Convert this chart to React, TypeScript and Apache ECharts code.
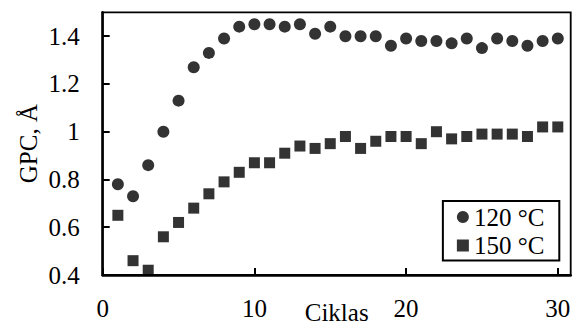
import React, { useEffect, useRef } from "react";
import * as echarts from "echarts";

const cycles = [1,2,3,4,5,6,7,8,9,10,11,12,13,14,15,16,17,18,19,20,21,22,23,24,25,26,27,28,29,30];
const gpc120 = [0.78,0.73,0.86,1.0,1.13,1.27,1.33,1.39,1.44,1.45,1.45,1.44,1.45,1.41,1.44,1.4,1.4,1.4,1.36,1.39,1.38,1.38,1.37,1.39,1.35,1.39,1.38,1.36,1.38,1.39];
const gpc150 = [0.65,0.46,0.42,0.56,0.62,0.68,0.74,0.79,0.83,0.87,0.87,0.91,0.94,0.93,0.95,0.98,0.93,0.96,0.98,0.98,0.95,1.0,0.97,0.98,0.99,0.99,0.99,0.98,1.02,1.02];
const seriesNames = ["120 °C", "150 °C"];
const xTicks = { min: 0, max: 30.85, interval: 10 };
const yTicks = { min: 0.4, max: 1.5, interval: 0.2 };

const FONT = "Liberation Serif";

export default function App() {
  const ref = useRef<HTMLDivElement>(null);
  useEffect(() => {
    document.body.style.margin = "0";
    const chart = echarts.init(ref.current!, null, { renderer: "svg" });
    const axisCommon = {
      axisLine: { show: true, lineStyle: { color: "#000", width: 2.5 } },
      axisTick: { show: true, inside: true, length: 7, lineStyle: { color: "#000", width: 2 } },
      splitLine: { show: false },
      nameMoveOverlap: false,
      nameTextStyle: { color: "#000", fontSize: 25, fontFamily: FONT },
    };
    chart.setOption({
      animation: false,
      backgroundColor: "#fff",
      grid: { left: 102.7, right: 7.3, top: 12.3, bottom: 52, show: true, borderColor: "#000", borderWidth: 1.8,
        containLabel: false, outerBoundsMode: "none" },
      xAxis: {
        type: "value",
        ...axisCommon,
        min: xTicks.min, max: xTicks.max, interval: xTicks.interval,
        name: "Ciklas", nameLocation: "middle", nameGap: 25,
        axisLabel: { color: "#000", fontSize: 25, fontFamily: FONT, margin: 21, showMaxLabel: false,
          formatter: (v: number) => (v % 10 === 0 ? String(v) : "") },
      },
      yAxis: {
        type: "value",
        ...axisCommon,
        min: yTicks.min, max: yTicks.max, interval: yTicks.interval,
        name: "GPC, Å", nameLocation: "middle", nameGap: 62, nameRotate: 90,
        axisLabel: { color: "#000", fontSize: 25, fontFamily: FONT, margin: 23, showMaxLabel: false,
          formatter: (v: number) => { const r = Math.round(v * 10) / 10; return r > 1.45 ? "" : String(r); } },
      },
      legend: {
        orient: "vertical",
        right: 18.7,
        top: 201,
        padding: [3, 15, 2, 14],
        itemGap: 2.5,
        itemWidth: 12,
        itemHeight: 12,
        borderColor: "#000",
        borderWidth: 2,
        textStyle: { color: "#000", fontSize: 25, fontFamily: FONT, lineHeight: 26 },
        data: [
          { name: seriesNames[0], icon: "circle" },
          { name: seriesNames[1], icon: "rect" },
        ],
      },
      series: [
        { type: "scatter", name: seriesNames[0], symbol: "circle", symbolSize: 12,
          itemStyle: { color: "#000" }, data: cycles.map((c, i) => [c, gpc120[i]]) },
        { type: "scatter", name: seriesNames[1], symbol: "rect", symbolSize: 11,
          itemStyle: { color: "#000" }, data: cycles.map((c, i) => [c, gpc150[i]]) },
      ],
    });
    return () => chart.dispose();
  }, []);
  return <div ref={ref} style={{ width: 578, height: 327 }} />;
}
